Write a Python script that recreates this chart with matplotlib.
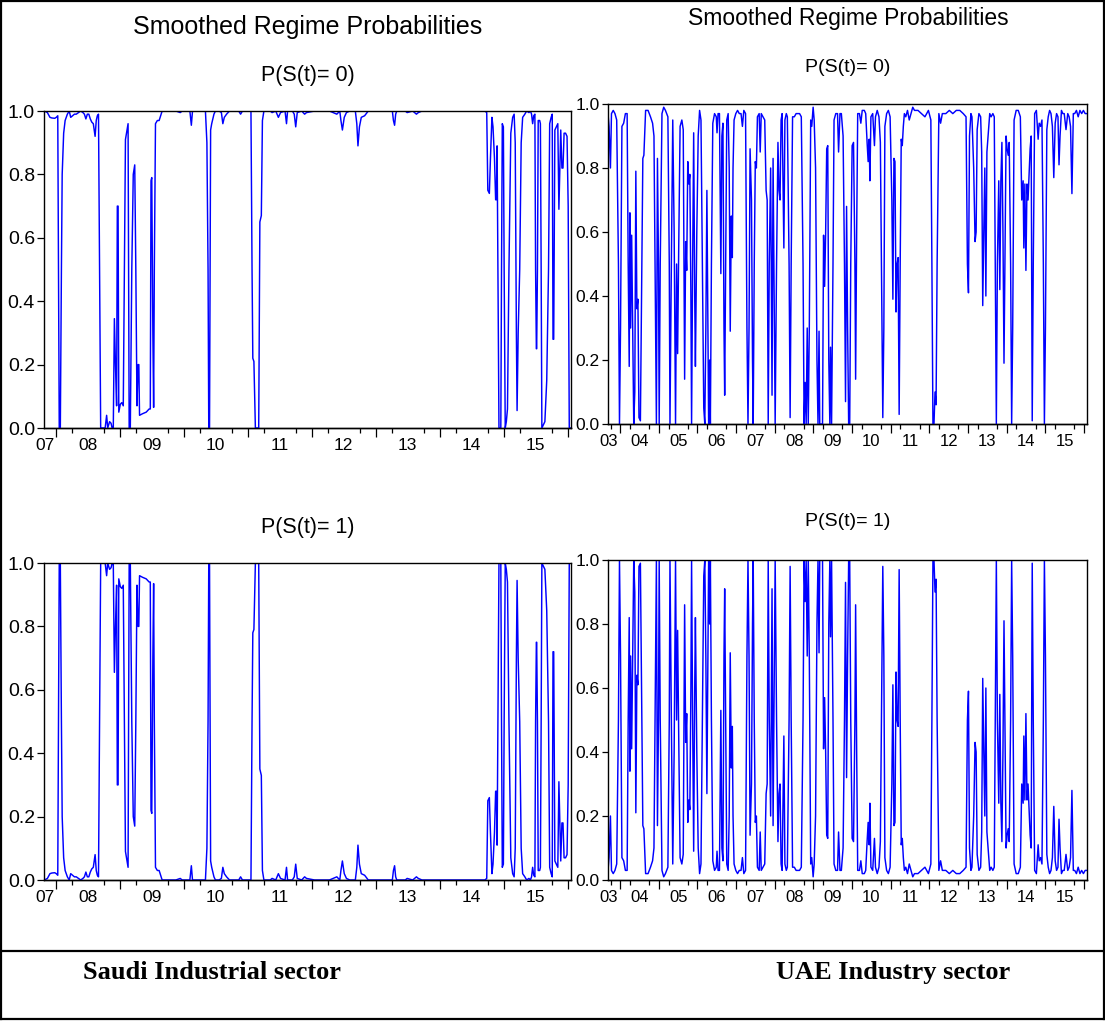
import numpy as np
import matplotlib
matplotlib.use("Agg")
import matplotlib.pyplot as plt
from matplotlib.lines import Line2D

plt.rcParams['font.family'] = ['Liberation Sans', 'DejaVu Sans']

# ---------------- data (decimal year, smoothed P(S(t)=0)) ----------------
saudi_year = [
    2007.827, 2007.873, 2007.913, 2007.942, 2007.988, 2008.012, 2008.035, 2008.046, 2008.058, 2008.075,
    2008.092, 2008.104, 2008.127, 2008.150, 2008.185, 2008.214, 2008.237, 2008.266, 2008.295, 2008.324,
    2008.358, 2008.393, 2008.428, 2008.451, 2008.474, 2008.497, 2008.520, 2008.543, 2008.566, 2008.590,
    2008.618, 2008.636, 2008.653, 2008.671, 2008.688, 2008.705, 2008.775, 2008.798, 2008.815, 2008.844,
    2008.867, 2008.884, 2008.902, 2008.919, 2008.936, 2008.954, 2008.965, 2008.977, 2008.988, 2009.012,
    2009.035, 2009.058, 2009.075, 2009.092, 2009.116, 2009.133, 2009.150, 2009.168, 2009.191, 2009.214,
    2009.237, 2009.254, 2009.272, 2009.289, 2009.301, 2009.312, 2009.358, 2009.416, 2009.462, 2009.480,
    2009.491, 2009.503, 2009.520, 2009.532, 2009.543, 2009.561, 2009.590, 2009.618, 2009.642, 2009.665,
    2009.734, 2009.879, 2009.948, 2009.977, 2010.098, 2010.121, 2010.139, 2010.341, 2010.364, 2010.382,
    2010.393, 2010.405, 2010.422, 2010.439, 2010.474, 2010.497, 2010.555, 2010.590, 2010.613, 2010.636,
    2010.671, 2010.717, 2010.861, 2010.890, 2010.919, 2011.052, 2011.069, 2011.081, 2011.098, 2011.121,
    2011.173, 2011.191, 2011.214, 2011.231, 2011.254, 2011.353, 2011.382, 2011.439, 2011.480, 2011.514,
    2011.584, 2011.607, 2011.624, 2011.699, 2011.728, 2011.751, 2011.775, 2011.844, 2011.890, 2011.919,
    2012.046, 2012.277, 2012.335, 2012.393, 2012.439, 2012.457, 2012.480, 2012.509, 2012.543, 2012.595,
    2012.682, 2012.705, 2012.723, 2012.746, 2012.775, 2012.827, 2012.884, 2013.260, 2013.277, 2013.295,
    2013.312, 2013.329, 2013.462, 2013.491, 2013.578, 2013.607, 2013.636, 2013.665, 2013.723, 2014.705,
    2014.734, 2014.751, 2014.775, 2014.792, 2014.815, 2014.832, 2014.855, 2014.873, 2014.884, 2014.896,
    2014.908, 2014.925, 2014.954, 2014.965, 2014.977, 2014.994, 2015.006, 2015.023, 2015.040, 2015.058,
    2015.081, 2015.110, 2015.139, 2015.162, 2015.179, 2015.197, 2015.208, 2015.225, 2015.249, 2015.272,
    2015.295, 2015.329, 2015.358, 2015.393, 2015.416, 2015.434, 2015.451, 2015.468, 2015.486, 2015.497,
    2015.509, 2015.514, 2015.526, 2015.538, 2015.561, 2015.572, 2015.584, 2015.595, 2015.618, 2015.642,
    2015.671, 2015.699, 2015.717, 2015.740, 2015.757, 2015.769, 2015.780, 2015.798, 2015.821, 2015.844,
    2015.861, 2015.873, 2015.890, 2015.908, 2015.925, 2015.942, 2015.965, 2015.988, 2016.006, 2016.023,
    2016.050,
]
saudi_p0 = [
    1.0, 0.995, 0.98, 0.978, 0.977, 0.98, 0.985, 0.5, 0.0, 0.0,
    0.5, 0.8, 0.93, 0.97, 0.99, 1.0, 0.98, 0.985, 0.99, 0.99,
    0.995, 1.0, 0.995, 0.99, 0.975, 0.99, 0.99, 0.975, 0.965, 0.96,
    0.92, 0.97, 0.985, 0.99, 0.5, 0.0, 0.0, 0.04, 0.0, 0.02,
    0.015, 0.0, 0.0, 0.345, 0.2, 0.07, 0.70, 0.70, 0.05, 0.075,
    0.08, 0.07, 0.5, 0.91, 0.94, 0.96, 0.0, 0.0, 0.5, 0.8,
    0.83, 0.5, 0.07, 0.2, 0.2, 0.04, 0.045, 0.05, 0.06, 0.06,
    0.78, 0.79, 0.3, 0.065, 0.5, 0.96, 0.97, 0.97, 0.985, 1.0,
    1.0, 1.0, 0.995, 1.0, 1.0, 0.955, 1.0, 1.0, 0.9, 0.5,
    0.0, 0.0, 0.94, 0.96, 0.99, 1.0, 1.0, 0.995, 0.96, 0.98,
    0.99, 1.0, 1.0, 0.99, 1.0, 1.0, 0.5, 0.22, 0.21, 0.0,
    0.0, 0.65, 0.67, 0.97, 1.0, 1.0, 0.995, 1.0, 0.98, 0.995,
    1.0, 0.96, 1.0, 1.0, 0.99, 0.95, 0.995, 1.0, 0.99, 0.995,
    1.0, 1.0, 0.995, 0.99, 1.0, 0.97, 0.94, 0.98, 0.995, 1.0,
    1.0, 0.96, 0.89, 0.95, 0.98, 0.985, 1.0, 1.0, 0.97, 0.955,
    0.99, 1.0, 1.0, 0.995, 1.0, 0.995, 0.99, 0.995, 1.0, 1.0,
    0.995, 0.75, 0.74, 0.85, 0.98, 0.95, 0.85, 0.72, 0.72, 0.89,
    0.5, 0.0, 0.0, 0.5, 0.96, 0.95, 0.5, 0.0, 0.02, 0.06,
    0.5, 0.93, 0.98, 0.99, 0.9, 0.3, 0.055, 0.3, 0.5, 0.9,
    0.98, 0.99, 1.0, 0.995, 1.0, 0.99, 0.96, 0.985, 0.99, 0.5,
    0.25, 0.25, 0.5, 0.97, 0.97, 0.96, 0.5, 0.0, 0.01, 0.02,
    0.15, 0.5, 0.96, 0.98, 0.99, 0.28, 0.28, 0.94, 0.95, 0.96,
    0.69, 0.8, 0.94, 0.82, 0.82, 0.93, 0.93, 0.92, 0.7, 0.0,
    0.0,
]

uae_year = [
    2003.685, 2003.712, 2003.748, 2003.775, 2003.820, 2003.865, 2003.910, 2003.955, 2003.982, 2004.009,
    2004.045, 2004.090, 2004.135, 2004.180, 2004.207, 2004.234, 2004.252, 2004.270, 2004.297, 2004.324,
    2004.351, 2004.378, 2004.405, 2004.432, 2004.459, 2004.486, 2004.523, 2004.559, 2004.586, 2004.613,
    2004.658, 2004.721, 2004.784, 2004.838, 2004.874, 2004.901, 2004.937, 2004.964, 2004.991, 2005.009,
    2005.036, 2005.081, 2005.126, 2005.171, 2005.234, 2005.270, 2005.288, 2005.324, 2005.360, 2005.396,
    2005.432, 2005.459, 2005.486, 2005.514, 2005.550, 2005.595, 2005.631, 2005.667, 2005.694, 2005.721,
    2005.748, 2005.775, 2005.802, 2005.829, 2005.847, 2005.874, 2005.901, 2005.928, 2005.946, 2005.982,
    2006.018, 2006.054, 2006.090, 2006.126, 2006.162, 2006.189, 2006.216, 2006.243, 2006.270, 2006.288,
    2006.315, 2006.333, 2006.360, 2006.396, 2006.441, 2006.486, 2006.505, 2006.532, 2006.568, 2006.604,
    2006.631, 2006.658, 2006.685, 2006.703, 2006.730, 2006.757, 2006.793, 2006.820, 2006.847, 2006.874,
    2006.901, 2006.919, 2006.946, 2006.991, 2007.036, 2007.081, 2007.126, 2007.162, 2007.198, 2007.243,
    2007.279, 2007.306, 2007.333, 2007.360, 2007.396, 2007.423, 2007.441, 2007.468, 2007.495, 2007.523,
    2007.550, 2007.595, 2007.622, 2007.649, 2007.694, 2007.739, 2007.775, 2007.802, 2007.829, 2007.856,
    2007.892, 2007.928, 2007.955, 2007.982, 2008.009, 2008.045, 2008.081, 2008.108, 2008.135, 2008.162,
    2008.189, 2008.234, 2008.261, 2008.297, 2008.324, 2008.369, 2008.396, 2008.423, 2008.459, 2008.505,
    2008.550, 2008.595, 2008.640, 2008.685, 2008.730, 2008.757, 2008.784, 2008.811, 2008.838, 2008.865,
    2008.892, 2008.928, 2008.955, 2008.991, 2009.018, 2009.054, 2009.090, 2009.117, 2009.144, 2009.162,
    2009.198, 2009.234, 2009.261, 2009.288, 2009.315, 2009.342, 2009.369, 2009.396, 2009.423, 2009.441,
    2009.468, 2009.505, 2009.532, 2009.577, 2009.622, 2009.649, 2009.685, 2009.721, 2009.766, 2009.802,
    2009.829, 2009.856, 2009.883, 2009.910, 2009.937, 2009.964, 2010.000, 2010.036, 2010.072, 2010.090,
    2010.117, 2010.144, 2010.189, 2010.225, 2010.261, 2010.315, 2010.351, 2010.387, 2010.414, 2010.441,
    2010.459, 2010.486, 2010.532, 2010.577, 2010.604, 2010.649, 2010.694, 2010.730, 2010.757, 2010.793,
    2010.820, 2010.847, 2010.892, 2010.937, 2010.982, 2011.027, 2011.054, 2011.081, 2011.108, 2011.135,
    2011.162, 2011.189, 2011.216, 2011.243, 2011.270, 2011.297, 2011.324, 2011.351, 2011.387, 2011.432,
    2011.477, 2011.523, 2011.568, 2011.613, 2011.703, 2011.793, 2011.883, 2011.973, 2012.036, 2012.063,
    2012.090, 2012.117, 2012.144, 2012.171, 2012.198, 2012.243, 2012.288, 2012.333, 2012.423, 2012.514,
    2012.604, 2012.694, 2012.784, 2012.874, 2012.946, 2012.982, 2013.009, 2013.036, 2013.072, 2013.099,
    2013.144, 2013.180, 2013.207, 2013.234, 2013.279, 2013.324, 2013.351, 2013.378, 2013.405, 2013.432,
    2013.459, 2013.486, 2013.523, 2013.559, 2013.595, 2013.640, 2013.676, 2013.703, 2013.730, 2013.757,
    2013.793, 2013.820, 2013.847, 2013.874, 2013.901, 2013.928, 2013.955, 2013.982, 2014.009, 2014.036,
    2014.063, 2014.099, 2014.126, 2014.153, 2014.189, 2014.243, 2014.297, 2014.351, 2014.387, 2014.423,
    2014.441, 2014.468, 2014.495, 2014.523, 2014.550, 2014.577, 2014.604, 2014.631, 2014.658, 2014.685,
    2014.721, 2014.766, 2014.811, 2014.838, 2014.874, 2014.910, 2014.946, 2014.973, 2015.000, 2015.036,
    2015.072, 2015.108, 2015.144, 2015.180, 2015.216, 2015.252, 2015.288, 2015.324, 2015.351, 2015.378,
    2015.414, 2015.450, 2015.486, 2015.532, 2015.577, 2015.613, 2015.649, 2015.685, 2015.721, 2015.757,
    2015.802, 2015.847, 2015.892, 2015.937, 2015.982, 2016.027, 2016.072,
]
uae_p0 = [
    0.97, 0.93, 0.80, 0.97, 0.98, 0.97, 0.95, 0.5, 0.0, 0.3,
    0.93, 0.94, 0.97, 0.97, 0.5, 0.18, 0.66, 0.3, 0.59, 0.3,
    0.0, 0.1, 0.79, 0.36, 0.39, 0.02, 0.01, 0.5, 0.83, 0.84,
    0.98, 0.98, 0.96, 0.94, 0.9, 0.5, 0.0, 0.83, 0.5, 0.0,
    0.5, 0.97, 0.99, 0.98, 0.96, 0.5, 0.0, 0.5, 0.95, 0.6,
    0.0, 0.5, 0.22, 0.55, 0.93, 0.95, 0.92, 0.14, 0.57, 0.48,
    0.82, 0.75, 0.78, 0.4, 0.0, 0.5, 0.91, 0.4, 0.18, 0.6,
    0.9, 0.98, 0.95, 0.5, 0.05, 0.0, 0.3, 0.73, 0.3, 0.0,
    0.2, 0.0, 0.5, 0.94, 0.97, 0.96, 0.91, 0.97, 0.97, 0.47,
    0.9, 0.94, 0.3, 0.09, 0.5, 0.95, 0.97, 0.8, 0.29, 0.65,
    0.52, 0.8, 0.95, 0.97, 0.98, 0.97, 0.97, 0.93, 0.98, 0.97,
    0.3, 0.0, 0.3, 0.86, 0.7, 0.2, 0.0, 0.5, 0.82, 0.8,
    0.96, 0.97, 0.85, 0.97, 0.96, 0.95, 0.73, 0.7, 0.0, 0.5,
    0.8, 0.09, 0.83, 0.4, 0.0, 0.5, 0.88, 0.73, 0.7, 0.95,
    0.97, 0.55, 0.95, 0.97, 0.96, 0.5, 0.02, 0.5, 0.96, 0.96,
    0.97, 0.97, 0.97, 0.96, 0.5, 0.0, 0.13, 0.0, 0.3, 0.0,
    0.3, 0.95, 0.93, 0.99, 0.95, 0.8, 0.2, 0.0, 0.29, 0.0,
    0.0, 0.0, 0.59, 0.43, 0.6, 0.86, 0.87, 0.2, 0.0, 0.24,
    0.0, 0.5, 0.95, 0.97, 0.97, 0.85, 0.97, 0.97, 0.9, 0.5,
    0.07, 0.68, 0.3, 0.0, 0.0, 0.5, 0.87, 0.88, 0.5, 0.14,
    0.6, 0.97, 0.97, 0.94, 0.98, 0.98, 0.97, 0.88, 0.82, 0.89,
    0.76, 0.96, 0.97, 0.87, 0.96, 0.98, 0.96, 0.88, 0.5, 0.02,
    0.3, 0.93, 0.97, 0.98, 0.96, 0.7, 0.39, 0.83, 0.82, 0.35,
    0.5, 0.52, 0.03, 0.5, 0.89, 0.87, 0.93, 0.97, 0.96, 0.98,
    0.95, 0.97, 0.99, 0.98, 0.98, 0.97, 0.96, 0.98, 0.95, 0.5,
    0.0, 0.0, 0.1, 0.06, 0.5, 0.97, 0.94, 0.97, 0.97, 0.98,
    0.97, 0.98, 0.98, 0.97, 0.96, 0.5, 0.41, 0.9, 0.97, 0.96,
    0.8, 0.57, 0.6, 0.92, 0.97, 0.96, 0.85, 0.37, 0.6, 0.8,
    0.4, 0.85, 0.91, 0.97, 0.96, 0.97, 0.96, 0.5, 0.0, 0.5,
    0.76, 0.42, 0.76, 0.88, 0.6, 0.19, 0.55, 0.9, 0.86, 0.84,
    0.88, 0.5, 0.0, 0.3, 0.95, 0.98, 0.98, 0.96, 0.7, 0.76,
    0.55, 0.75, 0.48, 0.75, 0.7, 0.78, 0.86, 0.9, 0.01, 0.5,
    0.97, 0.98, 0.89, 0.94, 0.93, 0.95, 0.5, 0.0, 0.3, 0.92,
    0.96, 0.98, 0.97, 0.93, 0.77, 0.94, 0.97, 0.96, 0.81, 0.9,
    0.98, 0.97, 0.97, 0.92, 0.97, 0.96, 0.93, 0.72, 0.97, 0.97,
    0.98, 0.96, 0.98, 0.97, 0.98, 0.97, 0.97,
]

y_ticks = [0.0, 0.2, 0.4, 0.6, 0.8, 1.0]
saudi_years = ['07', '08', '09', '10', '11', '12', '13', '14', '15']
uae_years = ['03', '04', '05', '06', '07', '08', '09', '10', '11', '12', '13', '14', '15']

titles = ['Smoothed Regime Probabilities', 'P(S(t)= 0)', 'P(S(t)= 1)']
sectors = ['Saudi Industrial sector', 'UAE Industry sector']

# ---------------- figure ----------------
W, H = 1105, 1021
fig = plt.figure(figsize=(W / 100, H / 100), dpi=100)
fig.patch.set_facecolor('white')


def rect(l, t, r, b):
    return [l / W, 1 - b / H, (r - l) / W, (b - t) / H]


def style(ax, xlim, first_year, labels, ysize, xsize, ylen):
    ax.set_xlim(*xlim)
    ax.set_ylim(0, 1)
    for s in ax.spines.values():
        s.set_linewidth(1.0)
        s.set_color('black')
    ax.set_yticks(y_ticks, [f'{v:.1f}' for v in y_ticks])
    ax.tick_params(axis='y', direction='out', length=ylen, width=0.9,
                   labelsize=ysize, pad=1.5, right=False)
    first = int(labels[0])
    pos = [xlim[0] + 0.02] + [2000 + int(l) + 0.5 for l in labels[1:]]
    ax.set_xticks(pos, labels)
    ax.tick_params(axis='x', which='major', length=0, labelsize=xsize, pad=7.5)
    q = np.arange(2000 + first, 2017, 0.25)
    q = [v for v in q if xlim[0] < v < xlim[1] and abs(v - round(v)) > 1e-6 and abs((v % 1) - 0.5) > 1e-6]
    halves = [2000 + int(l) + 0.5 for l in labels if xlim[0] < 2000 + int(l) + 0.5 < xlim[1]]
    ax.set_xticks(sorted(q + halves), minor=True)
    ax.tick_params(axis='x', which='minor', direction='out', length=3.5, width=0.9)
    sec = ax.secondary_xaxis('bottom')
    yb = [v for v in range(2000 + first, 2017) if xlim[0] < v < xlim[1]]
    sec.set_xticks(yb)
    sec.set_xticklabels([])
    sec.tick_params(axis='x', direction='out', length=6.5, width=0.9)
    sec.spines['bottom'].set_linewidth(1.0)


blue = '#0000FF'
saudi_p0_arr = np.array(saudi_p0)
uae_p0_arr = np.array(uae_p0)

sx = (2007.82, 2016.05)
ux = (2003.685, 2016.075)

ax1 = fig.add_axes(rect(44, 111, 571, 428))
ax1.plot(saudi_year, saudi_p0_arr, color=blue, lw=1.05)
style(ax1, sx, 7, saudi_years, 14, 12.5, 5)

ax2 = fig.add_axes(rect(44, 563, 571, 880))
ax2.plot(saudi_year, 1 - saudi_p0_arr, color=blue, lw=1.05)
style(ax2, sx, 7, saudi_years, 14, 12.5, 5)

ax3 = fig.add_axes(rect(608, 104, 1087, 424))
ax3.plot(uae_year, uae_p0_arr, color=blue, lw=1.05)
style(ax3, ux, 3, uae_years, 12.5, 12, 4.5)

ax4 = fig.add_axes(rect(608, 560, 1087, 880))
ax4.plot(uae_year, 1 - uae_p0_arr, color=blue, lw=1.05)
style(ax4, ux, 3, uae_years, 12.5, 12, 4.5)

# titles
fig.text(308 / W, 1 - 27 / H, titles[0], ha='center', va='center', fontsize=18)
fig.text(308 / W, 1 - 75 / H, titles[1], ha='center', va='center', fontsize=15.5)
fig.text(848 / W, 1 - 19 / H, titles[0], ha='center', va='center', fontsize=16.5)
fig.text(848 / W, 1 - 67 / H, titles[1], ha='center', va='center', fontsize=14)
fig.text(308 / W, 1 - 527 / H, titles[2], ha='center', va='center', fontsize=15.5)
fig.text(848 / W, 1 - 522 / H, titles[2], ha='center', va='center', fontsize=14)

# sector captions
fig.text(83 / W, 1 - 972 / H, sectors[0], ha='left', va='center', fontsize=19,
         fontweight='bold', family=['Liberation Serif', 'DejaVu Serif'])
fig.text(776 / W, 1 - 972 / H, sectors[1], ha='left', va='center', fontsize=19,
         fontweight='bold', family=['Liberation Serif', 'DejaVu Serif'])

# outer frame and separator line
lw_frame = 1.6
for xs, ys in [([0.001, 0.999], [0.999, 0.999]), ([0.001, 0.999], [0.0015, 0.0015]),
               ([0.001, 0.001], [0.0015, 0.999]), ([0.999, 0.999], [0.0015, 0.999]),
               ([0.001, 0.999], [1 - 951 / H, 1 - 951 / H])]:
    fig.add_artist(Line2D(xs, ys, transform=fig.transFigure, color='black', lw=lw_frame))

fig.savefig('out.png', dpi=100, facecolor='white')
